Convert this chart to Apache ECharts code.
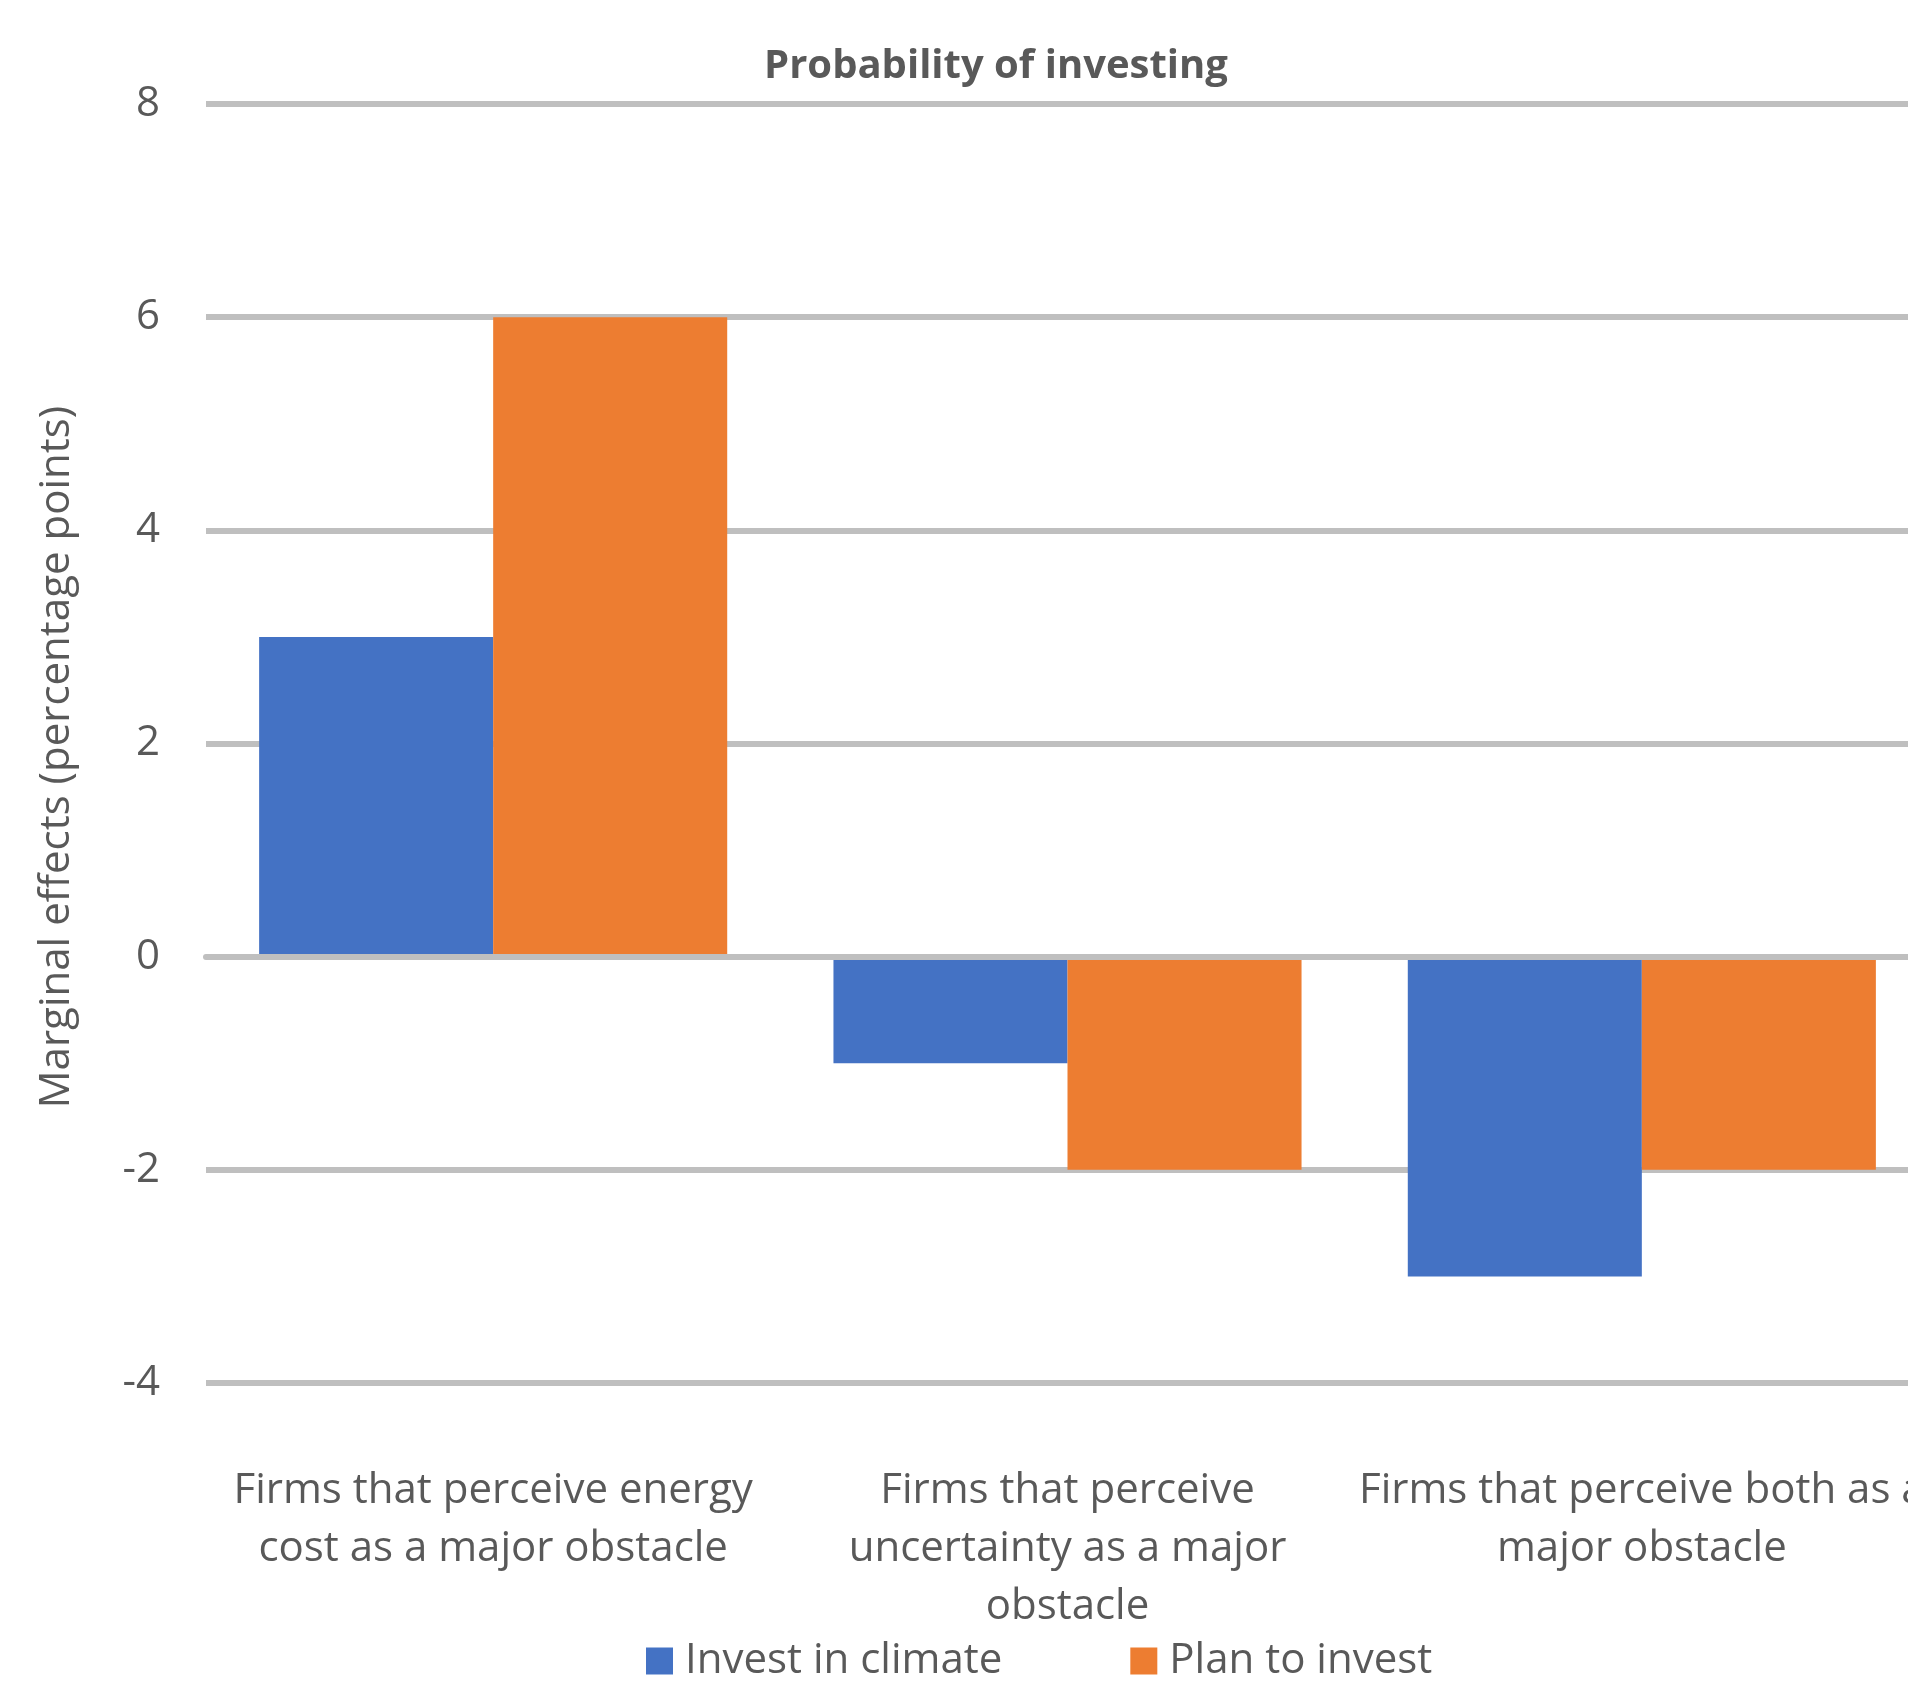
<!DOCTYPE html>
<html>
<head>
<meta charset="utf-8">
<script src="https://cdn.jsdelivr.net/npm/echarts@6/dist/echarts.min.js"></script>
<style>
  html, body { margin: 0; padding: 0; background: #fff; overflow: hidden; }
  /* the plot runs slightly past the right edge of the page */
  #chart { width: 1930px; height: 1682px; }
</style>
</head>
<body>
<div id="chart"></div>
<script>
// Marginal effects on the probability of investing, by perceived obstacle
const categories = [
  'Firms that perceive energy\ncost as a major obstacle',
  'Firms that perceive\nuncertainty as a major\nobstacle',
  'Firms that perceive both as a\nmajor obstacle'
];
const investInClimate = [3, -1, -3];
const planToInvest = [6, -2, -2];
const seriesNames = ['Invest in climate', 'Plan to invest'];

const FONT = '"Open Sans", "Noto Sans", sans-serif';
const TEXT = '#595959';
const GRID = '#bfbfbf';

const chart = echarts.init(document.getElementById('chart'));
chart.setOption({
  animation: false,
  color: ['#4472C4', '#ED7D31'],
  title: {
    text: 'Probability of investing',
    left: 991,
    textAlign: 'center',
    top: 42,
    textStyle: { fontFamily: FONT, fontSize: 40, fontWeight: 'bold', color: TEXT }
  },
  legend: {
    data: seriesNames,
    left: 641,
    top: 1635,
    itemWidth: 27,
    itemHeight: 27,
    itemGap: 128,
    icon: 'rect',
    textStyle: { fontFamily: FONT, fontSize: 42, color: TEXT, padding: [0, 0, 0, 7] }
  },
  grid: { left: 206, top: 104, bottom: 299, width: 1723, containLabel: false },
  xAxis: [
    {
      type: 'category',
      data: categories,
      position: 'bottom',
      axisLine: { show: false, onZero: false },
      axisTick: { show: false },
      axisLabel: {
        fontFamily: FONT, fontSize: 42, color: TEXT,
        lineHeight: 58, margin: 79, interval: 0
      }
    },
    {
      // zero baseline drawn above the bars
      type: 'category',
      data: categories,
      position: 'bottom',
      z: 10,
      axisLine: { show: true, onZero: true, lineStyle: { color: GRID, width: 6 } },
      axisTick: { show: false },
      axisLabel: { show: false }
    }
  ],
  yAxis: {
    type: 'value',
    min: -4,
    max: 8,
    interval: 2,
    name: 'Marginal effects (percentage points)',
    nameLocation: 'middle',
    nameGap: 128,
    nameTextStyle: { fontFamily: FONT, fontSize: 42, color: TEXT, padding: [0, 27, 0, 0] },
    axisLine: { show: false },
    axisTick: { show: false },
    axisLabel: { fontFamily: FONT, fontSize: 42, color: TEXT, margin: 46 },
    splitLine: { lineStyle: { color: GRID, width: 6 } }
  },
  series: [
    {
      name: seriesNames[0],
      type: 'bar',
      data: investInClimate,
      barGap: '0%',
      barCategoryGap: '18.5%'
    },
    {
      name: seriesNames[1],
      type: 'bar',
      data: planToInvest,
      barGap: '0%',
      barCategoryGap: '18.5%'
    }
  ]
});
</script>
</body>
</html>
